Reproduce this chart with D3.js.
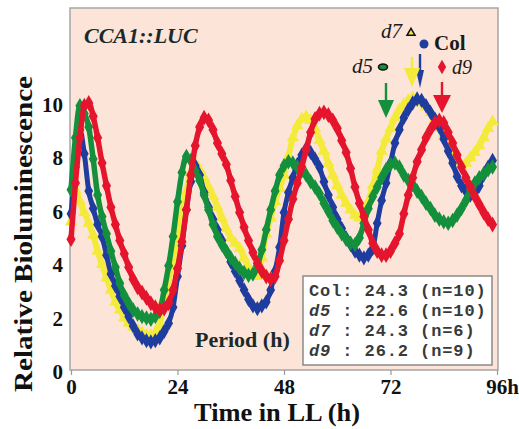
<!DOCTYPE html>
<html>
<head>
<meta charset="utf-8">
<script src="https://cdn.jsdelivr.net/npm/d3@7"></script>
<style>
body{margin:0;background:#fff;}
text{font-family:"Liberation Serif","Times New Roman",serif;}
.mono{font-family:"Liberation Mono","Courier New",monospace;}
</style>
</head>
<body>
<div class="chart"></div>
<script>
// CCA1::LUC bioluminescence traces, one value per hour in LL
var width = 519,
    height = 429;

var hours = d3.range(0, 96);

// Col (blue)
var colValues = [5.85,7.6,9.0,8.1,6.7,6.05,5.45,5.0,4.3,3.6,
  3.15,2.75,2.35,2.0,1.65,1.35,1.2,1.1,1.05,1.1,
  1.2,1.45,1.75,2.35,3.5,4.65,6.0,7.05,7.65,7.3,
  6.65,6.1,5.65,5.25,4.85,4.45,4.05,3.7,3.35,3.0,
  2.65,2.4,2.3,2.4,2.55,3.0,3.7,4.6,5.9,6.65,
  7.2,7.7,8.05,8.3,8.15,7.9,7.6,7.05,6.55,6.1,
  5.65,5.3,4.95,4.7,4.45,4.3,4.2,4.3,4.55,5.5,
  6.35,7.0,7.75,8.5,9.0,9.45,9.75,10.0,10.15,10.1,
  9.9,9.65,9.4,9.1,8.65,8.2,7.75,7.25,6.9,6.7,
  6.55,6.65,6.9,7.3,7.6,7.85];

// d5 (green)
var d5Values = [6.75,8.7,9.9,9.6,9.1,7.9,6.55,5.75,5.1,4.45,
  3.85,3.25,2.8,2.5,2.25,2.1,2.0,1.95,1.9,2.0,
  2.2,3.0,3.9,5.0,6.3,7.4,8.0,7.85,7.45,7.1,
  6.55,6.0,5.45,5.0,4.7,4.45,4.2,4.0,3.8,3.65,
  3.55,3.6,3.9,4.5,5.25,6.0,6.7,7.3,7.65,7.8,
  7.75,7.6,7.45,7.3,7.05,6.85,6.6,6.25,5.95,5.6,
  5.35,5.1,4.9,4.75,4.7,4.95,5.5,6.05,6.5,6.85,
  7.2,7.5,7.7,7.75,7.6,7.3,7.1,6.95,6.7,6.5,
  6.25,6.05,5.8,5.65,5.55,5.5,5.6,5.8,6.05,6.35,
  6.75,7.0,7.2,7.35,7.5,7.6];

// d7 (yellow)
var d7Values = [5.55,6.75,6.3,5.9,5.5,5.05,4.45,3.95,3.45,3.0,
  2.55,2.25,1.95,1.75,1.6,1.5,1.4,1.3,1.3,1.4,
  1.7,2.65,3.35,4.15,4.9,5.85,6.7,7.4,7.75,7.5,
  7.2,6.85,6.5,6.1,5.7,5.3,4.95,4.75,4.55,4.2,
  3.85,3.6,3.5,4.2,5.1,5.7,6.3,6.8,7.3,8.0,
  8.7,9.15,9.4,9.5,9.35,9.05,8.6,8.2,7.75,7.3,
  6.9,6.55,6.25,6.0,5.8,5.7,5.85,6.3,6.9,7.5,
  8.2,8.65,9.05,9.45,9.75,9.95,10.1,10.2,10.15,10.0,
  9.85,9.65,9.4,9.1,8.8,8.45,8.15,7.85,7.65,7.75,
  7.95,8.15,8.4,8.7,9.05,9.3];

// d9 (red)
var d9Values = [4.9,7.0,8.7,9.9,10.0,9.5,8.7,7.75,6.9,6.1,
  5.45,4.85,4.35,3.85,3.4,3.1,2.9,2.7,2.5,2.35,
  2.25,2.3,2.5,3.0,3.8,4.8,6.0,7.3,8.4,9.1,
  9.45,9.35,9.0,8.5,8.1,7.7,7.1,6.5,5.9,5.35,
  4.85,4.4,4.0,3.7,3.5,3.4,3.5,4.1,4.85,5.65,
  6.4,7.0,7.6,8.25,8.9,9.4,9.6,9.65,9.55,9.35,
  9.05,8.6,8.15,7.55,6.85,6.25,5.75,5.25,4.75,4.45,
  4.3,4.3,4.45,4.75,5.1,5.85,6.55,7.2,7.8,8.25,
  8.7,9.0,9.25,9.35,9.25,8.9,8.5,8.05,7.6,7.2,
  6.85,6.5,6.2,5.9,5.65,5.45];

var xTicks = [0, 24, 48, 72, 96];
var yTicks = [0, 2, 4, 6, 8, 10];

var periodRows = [
  {name:"Col", label:"Col:", period:"24.3", n:"(n=10)"},
  {name:"d5",  label:"d5 :", period:"22.6", n:"(n=10)"},
  {name:"d7",  label:"d7 :", period:"24.3", n:"(n=6)"},
  {name:"d9",  label:"d9 :", period:"26.2", n:"(n=9)"}
];

var BLUE = "#1f3d9e", GREEN = "#14903d", YELLOW = "#f4ea3a", RED = "#e5152e";

var svg = d3.select(".chart").append("svg")
    .attr("width", width)
    .attr("height", height);

var x = d3.scaleLinear().domain([0, 96]).range([71, 497]);
var y = d3.scaleLinear().domain([0, 10]).range([370, 103]);

// plot background
svg.append("rect")
  .attr("x", 70).attr("y", 8)
  .attr("width", 428).attr("height", 362)
  .attr("fill", "#fce4d8")
  .attr("stroke", "#a6a6a6")
  .attr("stroke-width", 1.5);

// series, drawn back to front
var series = [
  {values:d7Values, color:YELLOW, shape:d3.symbolTriangle, size:40, lw:6},
  {values:colValues, color:BLUE, shape:d3.symbolDiamond, size:42, lw:5},
  {values:d5Values, color:GREEN, shape:d3.symbolDiamond, size:44, lw:5.5},
  {values:d9Values, color:RED, shape:d3.symbolDiamond, size:46, lw:5.5}
];

var line = d3.line()
  .x(function(d,i){ return x(hours[i]); })
  .y(function(d){ return y(d); })
  .curve(d3.curveMonotoneX);

series.forEach(function(s){
  var g = svg.append("g");
  g.append("path")
    .attr("d", line(s.values))
    .attr("fill", "none")
    .attr("stroke", s.color)
    .attr("stroke-width", s.lw)
    .attr("stroke-linejoin", "round");
  var sym = d3.symbol().type(s.shape).size(s.size);
  g.selectAll("path.pt")
    .data(s.values).enter()
    .append("path")
    .attr("class", "pt")
    .attr("d", sym)
    .attr("transform", function(d,i){
      return "translate(" + x(hours[i]) + "," + y(d) + ")";
    })
    .attr("fill", s.color)
    .attr("stroke", s.color)
    .attr("stroke-width", 1.6);
});

// x axis
var xAxis = svg.append("g")
  .attr("transform", "translate(0,370)")
  .call(d3.axisBottom(x).tickValues(xTicks).tickSize(5).tickPadding(4)
    .tickFormat(function(d){ return d == 96 ? "96h" : d; }));
xAxis.select(".domain").remove();
xAxis.selectAll("line").attr("stroke", "#9a9a9a").attr("stroke-width", 1.2);
xAxis.selectAll("text")
  .attr("font-family", "Liberation Serif, serif")
  .attr("font-size", 21).attr("font-weight", "bold").attr("fill", "#111")
  .attr("dx", function(d){ return d == 96 ? 5 : 0; });

// y axis
var yAxis = svg.append("g")
  .attr("transform", "translate(70,0)")
  .call(d3.axisLeft(y).tickValues(yTicks).tickSize(0).tickPadding(7));
yAxis.select(".domain").remove();
yAxis.selectAll("text")
  .attr("font-family", "Liberation Serif, serif")
  .attr("font-size", 21).attr("font-weight", "bold").attr("fill", "#111")
  .attr("dy", "0.4em");

// axis titles
svg.append("text")
  .attr("x", 277).attr("y", 421)
  .attr("text-anchor", "middle")
  .attr("font-size", 26).attr("font-weight", "bold").attr("fill", "#111")
  .attr("textLength", 166).attr("lengthAdjust", "spacingAndGlyphs")
  .text("Time in LL (h)");

svg.append("text")
  .attr("transform", "translate(32,234) rotate(-90)")
  .attr("text-anchor", "middle")
  .attr("font-size", 26).attr("font-weight", "bold").attr("fill", "#111")
  .attr("textLength", 316).attr("lengthAdjust", "spacingAndGlyphs")
  .text("Relative Bioluminescence");

// construct label
svg.append("text")
  .attr("x", 84).attr("y", 43)
  .attr("font-size", 22).attr("font-weight", "bold").attr("font-style", "italic")
  .attr("fill", "#1a2a2a")
  .text("CCA1::LUC");

svg.append("text")
  .attr("x", 195).attr("y", 347)
  .attr("font-size", 22).attr("font-weight", "bold").attr("fill", "#1a2a2a")
  .text("Period (h)");

// period table
svg.append("rect")
  .attr("x", 303).attr("y", 276)
  .attr("width", 189).attr("height", 89)
  .attr("fill", "#fff")
  .attr("stroke", "#8a8a8a").attr("stroke-width", 1.5);

var rows = svg.append("g").selectAll("text")
  .data(periodRows).enter()
  .append("text")
  .attr("class", "mono")
  .attr("x", 309)
  .attr("y", function(d,i){ return 296 + i*20; })
  .attr("font-size", 17)
  .attr("font-weight", "bold")
  .attr("letter-spacing", 0.9)
  .attr("fill", "#3a3a3a")
  .attr("xml:space", "preserve");
rows.append("tspan")
  .attr("font-style", function(d){ return d.name == "Col" ? "normal" : "italic"; })
  .text(function(d){ return d.name; });
rows.append("tspan")
  .text(function(d){ return d.label.slice(d.name.length) + " " + d.period + " " + d.n; });

// marker key
svg.append("text").attr("x", 381).attr("y", 38)
  .attr("font-size", 21).attr("font-style", "italic").attr("fill", "#1a1a1a").text("d7");
svg.append("path")
  .attr("d", d3.symbol().type(d3.symbolTriangle).size(28))
  .attr("transform", "translate(411,33)")
  .attr("fill", YELLOW).attr("stroke", "#111").attr("stroke-width", 1.5);

svg.append("circle").attr("cx", 424).attr("cy", 44).attr("r", 4.5).attr("fill", BLUE);
svg.append("text").attr("x", 434).attr("y", 50)
  .attr("font-size", 21).attr("font-weight", "bold").attr("fill", "#1a1a1a").text("Col");

svg.append("text").attr("x", 352).attr("y", 73)
  .attr("font-size", 21).attr("font-style", "italic").attr("fill", "#1a1a1a").text("d5");
svg.append("ellipse").attr("cx", 383).attr("cy", 67).attr("rx", 4.5).attr("ry", 3)
  .attr("fill", GREEN).attr("stroke", "#111").attr("stroke-width", 1.6);

svg.append("path")
  .attr("d", d3.symbol().type(d3.symbolDiamond).size(60))
  .attr("transform", "translate(442,67)")
  .attr("fill", RED);
svg.append("text").attr("x", 452).attr("y", 74)
  .attr("font-size", 20).attr("font-style", "italic").attr("fill", "#1a1a1a").text("d9");

// arrows marking the last peak
function arrow(cx, top, headTop, tip, halfW, color){
  var g = svg.append("g");
  g.append("line")
    .attr("x1", cx).attr("x2", cx).attr("y1", top).attr("y2", headTop + 1)
    .attr("stroke", color).attr("stroke-width", 2.4);
  g.append("path")
    .attr("d", "M" + (cx-halfW) + "," + headTop + "L" + (cx+halfW) + "," + headTop + "L" + cx + "," + tip + "Z")
    .attr("fill", color);
}
arrow(420, 54, 70, 88, 4, BLUE);
arrow(412, 57, 68, 87, 8, YELLOW);
arrow(386, 83, 100, 118, 8, GREEN);
arrow(442, 82, 95, 113, 9, RED);
</script>
</body>
</html>
